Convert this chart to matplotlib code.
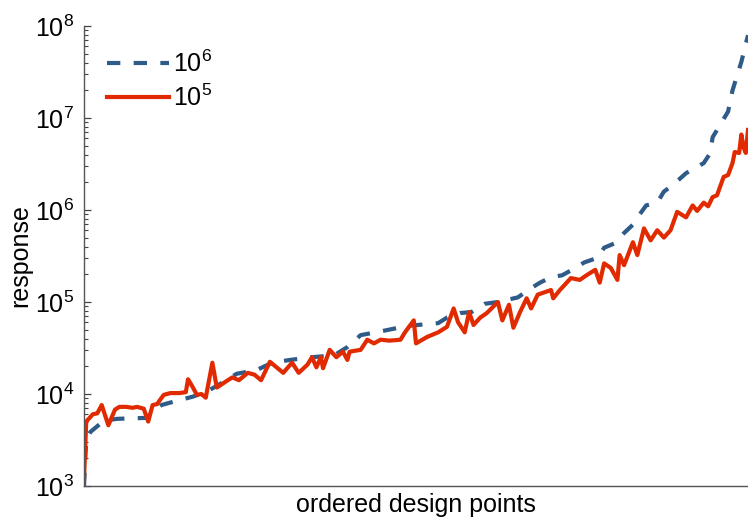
import numpy as np
import matplotlib
matplotlib.use("Agg")
import matplotlib.pyplot as plt
from matplotlib.ticker import LogLocator, LogFormatterMathtext, NullLocator

plt.rcParams['font.family'] = ['Liberation Sans', 'DejaVu Sans']
plt.rcParams['mathtext.fontset'] = 'custom'
plt.rcParams['mathtext.rm'] = 'Liberation Sans'
plt.rcParams['mathtext.it'] = 'Liberation Sans:italic'
plt.rcParams['mathtext.bf'] = 'Liberation Sans:bold'

# Rank of each design point (0..300) and log10 of the response
rank_1e6 = [0, 1, 3, 9, 15, 28, 31, 35, 41, 49, 55, 63, 69, 78, 85, 93, 103, 113,
            119, 125, 134, 146, 160, 164, 170, 175, 181, 187, 196, 202, 206, 211,
            216, 222, 226, 232, 235, 240, 244, 248, 251, 254, 259, 262, 266, 272,
            280, 283, 284, 286, 291, 293, 297, 300]
log_resp_1e6 = [3.00, 3.50, 3.59, 3.71, 3.73, 3.74, 3.80, 3.88, 3.92, 3.97, 4.02,
                4.13, 4.22, 4.26, 4.34, 4.37, 4.40, 4.42, 4.51, 4.64, 4.68, 4.74,
                4.77, 4.83, 4.88, 4.89, 4.98, 5.00, 5.05, 5.15, 5.21, 5.27, 5.29,
                5.37, 5.43, 5.48, 5.59, 5.64, 5.75, 5.84, 5.95, 6.05, 6.08, 6.20,
                6.27, 6.40, 6.51, 6.62, 6.79, 6.87, 7.07, 7.30, 7.61, 7.90]

rank_1e5 = [0, 1, 4, 6, 8, 11, 14, 16, 19, 22, 24, 27, 29, 31, 33, 36, 39, 43, 46,
            47, 49, 51, 53, 55, 58, 60, 65, 67, 70, 74, 77, 80, 84, 87, 90, 94, 97,
            101, 103, 105, 107, 108, 111, 114, 117, 119, 120, 125, 128, 131, 134,
            138, 143, 145, 149, 150, 155, 160, 164, 167, 169, 172, 174, 176, 179,
            182, 187, 189, 192, 194, 197, 200, 202, 205, 211, 212, 215, 220, 224,
            227, 231, 233, 235, 238, 241, 242, 244, 248, 250, 253, 256, 259, 262,
            265, 268, 272, 275, 277, 280, 282, 284, 286, 289, 291, 293, 294, 296,
            297, 298, 299, 300]
log_resp_1e5 = [3.07, 3.70, 3.78, 3.79, 3.88, 3.66, 3.83, 3.86, 3.86, 3.85, 3.86,
                3.84, 3.70, 3.88, 3.89, 3.99, 4.01, 4.01, 4.02, 4.16, 4.08, 3.99,
                4.00, 3.96, 4.34, 4.07, 4.15, 4.18, 4.15, 4.23, 4.21, 4.15, 4.35,
                4.29, 4.23, 4.34, 4.23, 4.32, 4.40, 4.29, 4.40, 4.28, 4.48, 4.40,
                4.46, 4.37, 4.46, 4.48, 4.59, 4.55, 4.59, 4.58, 4.59, 4.67, 4.80,
                4.55, 4.62, 4.67, 4.73, 4.93, 4.78, 4.67, 4.89, 4.75, 4.83, 4.88,
                5.00, 4.80, 4.97, 4.72, 4.89, 5.04, 4.93, 5.08, 5.13, 5.04, 5.13,
                5.26, 5.24, 5.29, 5.35, 5.21, 5.42, 5.37, 5.24, 5.51, 5.40, 5.65,
                5.51, 5.80, 5.67, 5.78, 5.70, 5.78, 5.98, 5.92, 6.05, 5.99, 6.08,
                6.04, 6.14, 6.16, 6.36, 6.38, 6.51, 6.63, 6.62, 6.82, 6.68, 6.62,
                6.87]

labels = [r'$10^6$', r'$10^5$']
blue = '#2e5b88'
red = '#e12a00'

fig = plt.figure(figsize=(7.48, 5.20), dpi=100)
ax = fig.add_axes([0.1123, 0.0654, 0.8877, 0.8846])

ax.plot(rank_1e6, 10 ** np.array(log_resp_1e6), color=blue, lw=3.0,
        dashes=(3.2, 3.2), label=labels[0])
ax.plot(rank_1e5, 10 ** np.array(log_resp_1e5), color=red, lw=3.0,
        label=labels[1])

ax.set_yscale('log')
ax.set_ylim(1e3, 1e8)
ax.set_xlim(0, 300)

ax.yaxis.set_major_locator(LogLocator(base=10, numticks=10))
ax.yaxis.set_minor_locator(LogLocator(base=10, subs=np.arange(2, 10), numticks=20))
ax.yaxis.set_major_formatter(LogFormatterMathtext())
ax.xaxis.set_major_locator(NullLocator())
ax.xaxis.set_minor_locator(NullLocator())

ax.tick_params(axis='y', which='major', direction='in', length=5, width=0.9,
               color='#444444', labelsize=18, pad=7)
ax.tick_params(axis='y', which='minor', direction='in', length=3, width=0.8,
               color='#444444')

for side in ('top', 'right'):
    ax.spines[side].set_visible(False)
for side in ('left', 'bottom'):
    ax.spines[side].set_color('#555555')
    ax.spines[side].set_linewidth(1.0)

ax.set_ylabel('response', fontsize=18, labelpad=2)
ax.set_xlabel('ordered design points', fontsize=18, labelpad=5)

leg = ax.legend(loc='upper left', frameon=False, fontsize=18,
                handlelength=2.5, handletextpad=0.15, labelspacing=0.3,
                bbox_to_anchor=(0.0, 0.995))

fig.savefig('out.png', dpi=100)
